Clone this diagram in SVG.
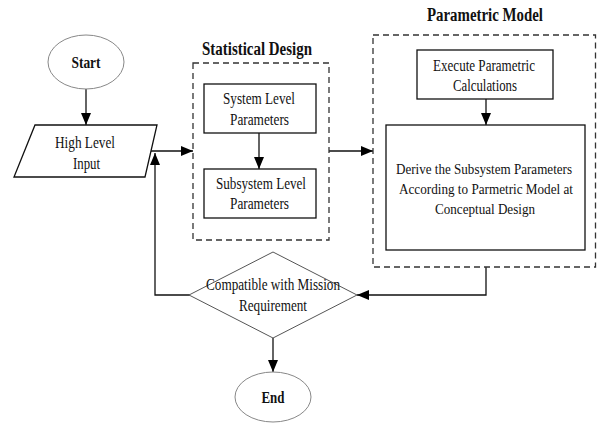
<svg xmlns="http://www.w3.org/2000/svg" width="597" height="423" viewBox="0 0 597 423">
<style>
text{font-family:"Liberation Serif","Times New Roman",serif;font-size:16px;fill:#111;text-anchor:middle}
.b{font-weight:bold}
.s{font-size:15px}
.t{font-size:18px;font-weight:bold}
.box{fill:#fff;stroke:#111;stroke-width:1.3}
.dash{fill:none;stroke:#333;stroke-width:1.3;stroke-dasharray:6,4}
.term{fill:#fff;stroke:#888;stroke-width:1}
.con{fill:none;stroke:#111;stroke-width:1.3}
</style>
<defs>
<marker id="ah" markerUnits="userSpaceOnUse" markerWidth="12" markerHeight="10" refX="12" refY="5" orient="auto">
<path d="M0,0 L12,5 L0,10 z" fill="#000"/>
</marker>
</defs>
<g id="connectors">
<line class="con" x1="86" y1="89" x2="86" y2="125" marker-end="url(#ah)"/>
<line class="con" x1="151" y1="151" x2="193" y2="151" marker-end="url(#ah)"/>
<polyline class="con" points="190,295 155,295 155,153" marker-end="url(#ah)"/>
<line class="con" x1="259" y1="133" x2="259" y2="169" marker-end="url(#ah)"/>
<line class="con" x1="329" y1="151" x2="373" y2="151" marker-end="url(#ah)"/>
<line class="con" x1="486" y1="99" x2="486" y2="125" marker-end="url(#ah)"/>
<polyline class="con" points="486,267 486,295 357,295" marker-end="url(#ah)"/>
<line class="con" x1="273" y1="338" x2="273" y2="372" marker-end="url(#ah)"/>
</g>
<g id="start">
<ellipse class="term" cx="86" cy="62" rx="38" ry="27"/>
<text class="b" x="86" y="67.5" textLength="29" lengthAdjust="spacingAndGlyphs">Start</text>
</g>
<g id="input">
<polygon class="box" points="35,125 157,125 145,177 14,177"/>
<text x="85" y="147.5" textLength="60" lengthAdjust="spacingAndGlyphs">High Level</text>
<text x="86.5" y="168.5" textLength="27" lengthAdjust="spacingAndGlyphs">Input</text>
</g>
<g id="statistical-design">
<rect class="dash" x="193" y="63" width="136" height="177"/>
<text class="t" x="257" y="55" textLength="110" lengthAdjust="spacingAndGlyphs">Statistical Design</text>
</g>
<g id="system-level">
<rect class="box" x="204" y="84" width="112" height="49"/>
<text x="259" y="103.5" textLength="72" lengthAdjust="spacingAndGlyphs">System Level</text>
<text x="259.5" y="124.5" textLength="59" lengthAdjust="spacingAndGlyphs">Parameters</text>
</g>
<g id="subsystem-level">
<rect class="box" x="204" y="169" width="112" height="49"/>
<text x="261" y="188.5" textLength="90" lengthAdjust="spacingAndGlyphs">Subsystem Level</text>
<text x="259.5" y="208.5" textLength="59" lengthAdjust="spacingAndGlyphs">Parameters</text>
</g>
<g id="parametric-model">
<rect class="dash" x="373" y="35" width="222.5" height="232"/>
<text class="t" x="485" y="21" textLength="116" lengthAdjust="spacingAndGlyphs">Parametric Model</text>
</g>
<g id="execute">
<rect class="box" x="417" y="50" width="136" height="49"/>
<text x="484" y="70.5" textLength="102" lengthAdjust="spacingAndGlyphs">Execute Parametric</text>
<text x="485" y="90.5" textLength="64" lengthAdjust="spacingAndGlyphs">Calculations</text>
</g>
<g id="derive">
<rect class="box" x="386" y="125" width="199" height="125"/>
<text class="s" x="484" y="173.5" textLength="176" lengthAdjust="spacingAndGlyphs">Derive the Subsystem Parameters</text>
<text class="s" x="486" y="193.5" textLength="174" lengthAdjust="spacingAndGlyphs">According to Parmetric Model at</text>
<text class="s" x="485" y="213.5" textLength="100" lengthAdjust="spacingAndGlyphs">Conceptual Design</text>
</g>
<g id="decision">
<polygon class="term" points="273,252 357,295 273,338 189,295" style="stroke:#555"/>
<text x="273" y="289.5" textLength="134" lengthAdjust="spacingAndGlyphs">Compatible with Mission</text>
<text x="273" y="310.5" textLength="68" lengthAdjust="spacingAndGlyphs">Requirement</text>
</g>
<g id="end">
<ellipse class="term" cx="273" cy="397" rx="38" ry="25"/>
<text class="b" x="273" y="402.5" textLength="23" lengthAdjust="spacingAndGlyphs">End</text>
</g>
</svg>
